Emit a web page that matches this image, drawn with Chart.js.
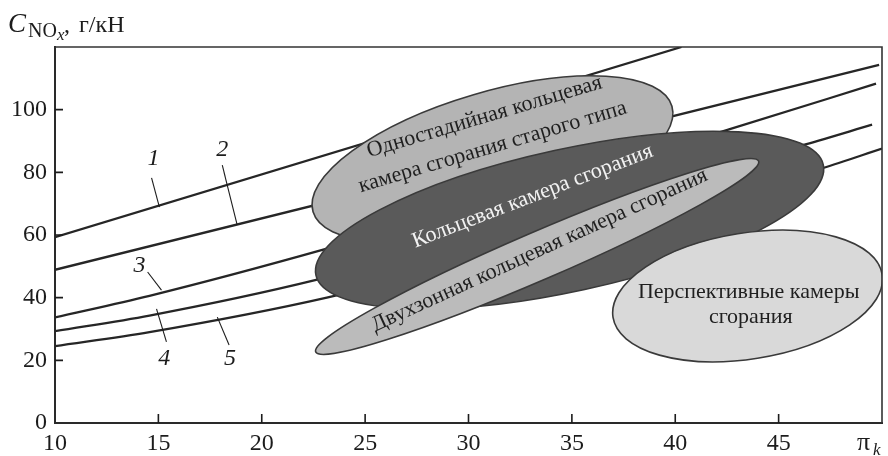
<!DOCTYPE html>
<html>
<head>
<meta charset="utf-8">
<script src="https://cdn.jsdelivr.net/npm/chart.js@4.4.1/dist/chart.umd.min.js"></script>
<style>
  html, body { margin: 0; padding: 0; background: #ffffff; }
  canvas { display: block; }
</style>
</head>
<body>
<canvas id="chart" width="888" height="456"></canvas>
<script>
// NOx emission index (g/kN) against compressor pressure ratio, curves 1–5
const curveNames = ['1', '2', '3', '4', '5'];

const curve1X = [10, 40.3];
const curve1Y = [59.3, 120];
const curve2X = [10, 49.86];
const curve2Y = [48.9, 114.3];
const curve3X = [10, 14.57, 23.06, 42.6, 49.71];
const curve3Y = [33.7, 40.6, 55.5, 93.7, 108.3];
const curve4X = [10, 14.57, 22.58, 46.3, 49.52];
const curve4Y = [29.3, 34.3, 45.6, 88.9, 95.2];
const curve5X = [10, 14.57, 23.2, 47.1, 50];
const curve5Y = [24.5, 29.0, 40.1, 81.3, 87.6];

// Axis tick values
const xTicks = [10, 15, 20, 25, 30, 35, 40, 45];
const yTicks = [0, 20, 40, 60, 80, 100];

// Combustor-type regions, in axis units (centre, end of long axis, half-width in y units)
const regionNames = [
  ['Одностадийная кольцевая', 'камера сгорания старого типа'],
  ['Кольцевая камера сгорания'],
  ['Двухзонная кольцевая камера сгорания'],
  ['Перспективные камеры', 'сгорания']
];
const regionCx   = [31.16, 34.89, 33.32, 43.50];
const regionCy   = [84.26, 64.79, 53.14, 40.53];
const regionTipX = [39.84, 47.16, 44.03, 50.01];
const regionTipY = [101.1, 82.4, 83.6, 47.36];
const regionHalf = [21.4, 22.7, 7.66, 20.1];

// Placement of the region captions (baseline centre in axis units) and rotation
const captionLayout = [
  { lines: [[30.85, 95.9], [31.25, 86.3]], angle: 16.5, color: '#1f1f1f' },
  { lines: [[33.2, 70.6]], angle: 21, color: '#f2f2f2' },
  { lines: [[33.55, 53.4]], angle: 24.5, color: '#1f1f1f' },
  { lines: [[43.55, 39.89], [43.65, 31.91]], angle: 0, color: '#1f1f1f' }
];
const regionStyle = [
  { fill: '#b4b4b4' },
  { fill: '#5a5a5a' },
  { fill: '#bbbbbb' },
  { fill: '#d9d9d9' }
];

// Curve number labels and their leader strokes, in axis units
const curveLabelLayout = [
  { text: [14.77, 84.3], from: [14.67, 78.2], to: [15.05, 68.9] },
  { text: [18.09, 87.1], from: [18.09, 82.3], to: [18.81, 63.2] },
  { text: [14.09, 50.1], from: [14.48, 48.2], to: [15.15, 42.4] },
  { text: [15.29, 20.4], from: [14.91, 36.4], to: [15.39, 25.9] },
  { text: [18.47, 20.4], from: [17.85, 33.8], to: [18.42, 24.9] }
];

const SERIF = '"Liberation Serif", "Times New Roman", serif';
const INK = '#1c1c1c';

const toPoints = (xs, ys) => xs.map((x, i) => ({ x: x, y: ys[i] }));
const curves = [
  toPoints(curve1X, curve1Y),
  toPoints(curve2X, curve2Y),
  toPoints(curve3X, curve3Y),
  toPoints(curve4X, curve4Y),
  toPoints(curve5X, curve5Y)
];

const datasets = curves.map((pts, i) => ({
  label: curveNames[i],
  data: pts,
  borderColor: '#262626',
  borderWidth: 2.3,
  pointRadius: 0,
  fill: false,
  cubicInterpolationMode: 'monotone'
}));

// Regions over the curves, then captions, curve numbers, frame and inner ticks
const overlayPlugin = {
  id: 'overlay',
  afterDatasetsDraw(chart) {
    const { ctx, chartArea: ca, scales: { x, y } } = chart;
    ctx.save();
    ctx.beginPath();
    ctx.rect(ca.left, ca.top, ca.right - ca.left, ca.bottom - ca.top);
    ctx.clip();
    regionNames.forEach((names, i) => {
      const cx = x.getPixelForValue(regionCx[i]);
      const cy = y.getPixelForValue(regionCy[i]);
      const tx = x.getPixelForValue(regionTipX[i]);
      const ty = y.getPixelForValue(regionTipY[i]);
      const a = Math.hypot(tx - cx, ty - cy);
      const rot = Math.atan2(ty - cy, tx - cx);
      const b = Math.abs(y.getPixelForValue(0) - y.getPixelForValue(regionHalf[i]));
      ctx.beginPath();
      ctx.ellipse(cx, cy, a, b, rot, 0, Math.PI * 2);
      ctx.fillStyle = regionStyle[i].fill;
      ctx.fill();
      ctx.lineWidth = 1.6;
      ctx.strokeStyle = '#3a3a3a';
      ctx.stroke();
    });
    ctx.restore();

    ctx.save();
    ctx.font = '22px ' + SERIF;
    ctx.textAlign = 'center';
    ctx.textBaseline = 'alphabetic';
    captionLayout.forEach((c, i) => {
      c.lines.forEach((p, j) => {
        ctx.save();
        ctx.translate(x.getPixelForValue(p[0]), y.getPixelForValue(p[1]));
        ctx.rotate(-c.angle * Math.PI / 180);
        ctx.fillStyle = c.color;
        ctx.fillText(regionNames[i][j], 0, 0);
        ctx.restore();
      });
    });
    ctx.restore();

    ctx.save();
    ctx.strokeStyle = INK;
    ctx.lineWidth = 1.1;
    ctx.fillStyle = INK;
    ctx.font = 'italic 24px ' + SERIF;
    ctx.textAlign = 'center';
    ctx.textBaseline = 'middle';
    curveLabelLayout.forEach((l, i) => {
      ctx.beginPath();
      ctx.moveTo(x.getPixelForValue(l.from[0]), y.getPixelForValue(l.from[1]));
      ctx.lineTo(x.getPixelForValue(l.to[0]), y.getPixelForValue(l.to[1]));
      ctx.stroke();
      ctx.fillText(curveNames[i], x.getPixelForValue(l.text[0]), y.getPixelForValue(l.text[1]));
    });
    ctx.restore();
  },
  afterDraw(chart) {
    const { ctx, chartArea: ca, scales: { x, y } } = chart;
    ctx.save();
    // top and right frame
    ctx.strokeStyle = '#333333';
    ctx.lineWidth = 1.6;
    ctx.beginPath();
    ctx.moveTo(ca.left, ca.top);
    ctx.lineTo(ca.right, ca.top);
    ctx.lineTo(ca.right, ca.bottom);
    ctx.stroke();
    // inner tick marks
    ctx.strokeStyle = INK;
    ctx.lineWidth = 1.6;
    ctx.beginPath();
    xTicks.forEach(v => {
      if (v === x.min) return;
      const px = x.getPixelForValue(v);
      ctx.moveTo(px, ca.bottom);
      ctx.lineTo(px, ca.bottom - 9);
    });
    yTicks.forEach(v => {
      if (v === y.min) return;
      const py = y.getPixelForValue(v);
      ctx.moveTo(ca.left, py);
      ctx.lineTo(ca.left + 8, py);
    });
    ctx.stroke();

    // axis titles
    ctx.fillStyle = INK;
    ctx.textAlign = 'left';
    ctx.textBaseline = 'alphabetic';
    ctx.font = 'italic 27px ' + SERIF;
    ctx.fillText('C', 8, 32);
    ctx.font = '20px ' + SERIF;
    ctx.fillText('NO', 28, 37);
    ctx.font = 'italic 17px ' + SERIF;
    ctx.fillText('x', 57, 40);
    ctx.font = '24px ' + SERIF;
    ctx.fillText(',', 64, 32);
    ctx.fillText('г/кН', 79, 32);

    ctx.font = '26px ' + SERIF;
    ctx.fillText('π', 857, 450);
    ctx.font = 'italic 17px ' + SERIF;
    ctx.fillText('k', 873, 455);
    ctx.restore();
  }
};

new Chart(document.getElementById('chart'), {
  type: 'line',
  data: { datasets: datasets },
  options: {
    responsive: false,
    animation: false,
    events: [],
    layout: { padding: { top: 47, right: 2, left: 0, bottom: 0 } },
    plugins: { legend: { display: false }, tooltip: { enabled: false }, title: { display: false } },
    scales: {
      x: {
        type: 'linear',
        min: 10,
        max: 50,
        afterBuildTicks: s => { s.ticks = xTicks.concat([50]).map(v => ({ value: v })); },
        ticks: {
          color: INK,
          font: { family: SERIF, size: 24 },
          padding: 6,
          maxRotation: 0,
          autoSkip: false,
          callback: v => (v === 50 ? '' : String(v))
        },
        grid: { display: false, drawTicks: false },
        border: { display: true, color: '#2a2a2a', width: 2 },
        afterFit: s => { s.height = 33; }
      },
      y: {
        type: 'linear',
        min: 0,
        max: 120,
        afterBuildTicks: s => { s.ticks = yTicks.concat([120]).map(v => ({ value: v })); },
        ticks: {
          color: INK,
          font: { family: SERIF, size: 24 },
          padding: 8,
          autoSkip: false,
          callback: v => (v === 120 ? '' : String(v))
        },
        grid: { display: false, drawTicks: false },
        border: { display: true, color: '#2a2a2a', width: 2 },
        afterFit: s => { s.width = 55; }
      }
    }
  },
  plugins: [overlayPlugin]
});
</script>
</body>
</html>
